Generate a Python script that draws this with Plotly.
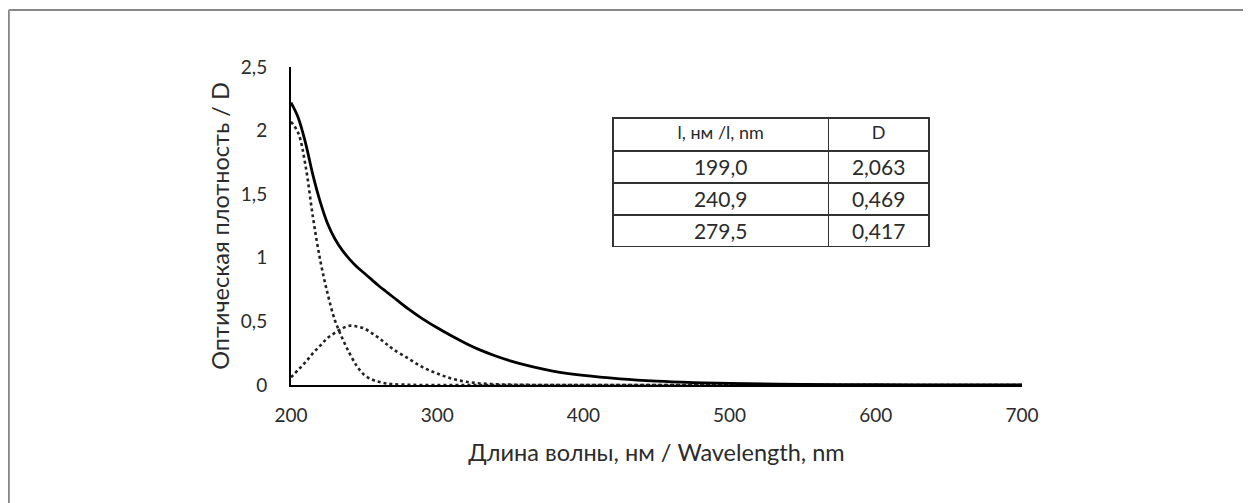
import plotly.graph_objects as go

# wavelength grid (nm) and curves
wavelength = [200, 205, 210, 215, 220, 225, 230, 235, 240, 245, 250, 255, 260, 265, 270, 280, 290,
              300, 310, 320, 330, 340, 350, 360, 380, 400, 425, 450, 475, 500, 550, 600, 650, 700]
total_d = [2.22, 2.10, 1.90, 1.65, 1.44, 1.27, 1.15, 1.06, 0.99, 0.93, 0.88, 0.83, 0.78, 0.735, 0.69, 0.60, 0.52,
           0.45, 0.385, 0.325, 0.272, 0.228, 0.19, 0.158, 0.107, 0.075, 0.048, 0.03, 0.019, 0.012, 0.005, 0.002, 0.001, 0.0]
peak1_d = [2.07, 1.98, 1.72, 1.32, 0.98, 0.72, 0.51, 0.37, 0.25, 0.15, 0.08, 0.045, 0.025, 0.012, 0.006, 0.002, 0.0,
           0.0, 0.0, 0.0, 0.0, 0.0, 0.0, 0.0, 0.0, 0.0, 0.0, 0.0, 0.0, 0.0, 0.0, 0.0, 0.0, 0.0]
peak2_d = [0.06, 0.12, 0.18, 0.25, 0.31, 0.37, 0.41, 0.445, 0.466, 0.46, 0.445, 0.41, 0.37, 0.325, 0.28, 0.21, 0.14,
           0.09, 0.05, 0.025, 0.012, 0.006, 0.003, 0.001, 0.0, 0.0, 0.0, 0.0, 0.0, 0.0, 0.0, 0.0, 0.0, 0.0]

# table of fitted peaks
table_header = ["l, нм /l, nm", "D"]
peak_wl = ["199,0", "240,9", "279,5"]
peak_d = ["2,063", "0,469", "0,417"]

x_ticks = [200, 300, 400, 500, 600, 700]
y_ticks = [0, 0.5, 1, 1.5, 2, 2.5]
y_ticktext = ["0", "0,5", "1", "1,5", "2", "2,5"]

FONT = "Lato"
TEXT = "#2b2b2b"

fig = go.Figure()
fig.add_trace(go.Scatter(x=wavelength, y=peak1_d, mode="lines", line_shape="spline",
                         line=dict(color="#222", width=2.6, dash="dot"), showlegend=False))
fig.add_trace(go.Scatter(x=wavelength, y=peak2_d, mode="lines", line_shape="spline",
                         line=dict(color="#222", width=2.6, dash="dot"), showlegend=False))
fig.add_trace(go.Scatter(x=wavelength, y=total_d, mode="lines", line_shape="spline",
                         line=dict(color="black", width=2.8), showlegend=False))

fig.add_trace(go.Table(
    domain=dict(x=[0.4405, 0.874], y=[0.434, 0.840]),
    columnwidth=[216, 101],
    header=dict(values=table_header, align="center", height=33,
                line=dict(color="#333", width=1.5), fill_color="white",
                font=dict(family=FONT, size=18, color=TEXT)),
    cells=dict(values=[peak_wl, peak_d], align="center", height=32,
               line=dict(color="#333", width=1.5), fill_color="white",
               font=dict(family=FONT, size=21, color=TEXT)),
))

fig.update_layout(
    width=1251, height=503,
    margin=dict(l=283, r=237, t=59, b=126),
    paper_bgcolor="white", plot_bgcolor="white",
    font=dict(family=FONT, size=19, color=TEXT),
    xaxis=dict(range=[200, 700], tickvals=x_ticks, showgrid=False, zeroline=False,
               showline=True, linecolor="black", linewidth=2, ticks="",
               ticklabelstandoff=12, tickfont=dict(size=19, color=TEXT),
               title=dict(text="Длина волны, нм / Wavelength, nm",
                          font=dict(size=23.5, color=TEXT), standoff=20)),
    yaxis=dict(range=[0, 2.5], tickvals=y_ticks, ticktext=y_ticktext, showgrid=False,
               zeroline=False, showline=True, linecolor="black", linewidth=2, ticks="",
               ticklabelstandoff=18, tickfont=dict(size=19, color=TEXT),
               title=dict(text="Оптическая плотность / D",
                          font=dict(size=23.5, color=TEXT), standoff=5)),
    shapes=[
        dict(type="line", xref="paper", yref="paper", x0=-0.386, x1=1.33, y0=1.179, y1=1.179,
             line=dict(color="#888", width=2)),
        dict(type="line", xref="paper", yref="paper", x0=-0.386, x1=-0.386, y0=1.179, y1=-0.41,
             line=dict(color="#888", width=2)),
    ],
)

fig.write_html("out.html")
